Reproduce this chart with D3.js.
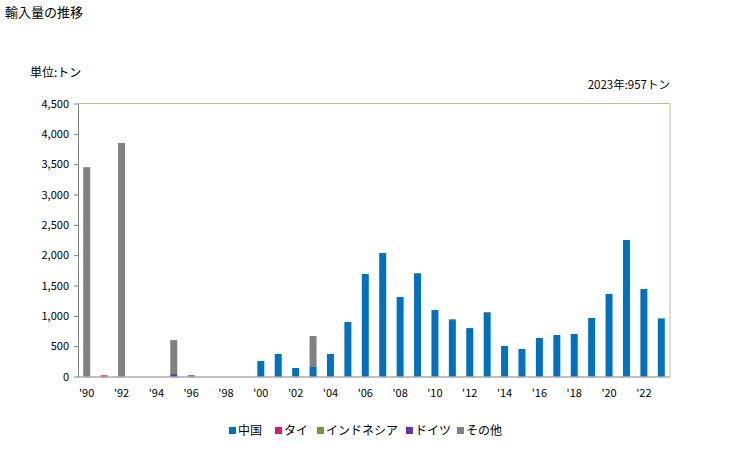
<!DOCTYPE html>
<html><head><meta charset="utf-8">
<script src="https://cdn.jsdelivr.net/npm/d3@7"></script>
<style>body{margin:0;background:#fff;font-family:"Noto Sans CJK JP","Noto Sans",sans-serif;}</style>
</head><body><svg id="c" width="729" height="450"></svg>
<script>
const years = d3.range(1990, 2024);
const seriesNames = ["中国","タイ","インドネシア","ドイツ","その他"];
const colors = ["#0070c0","#d41f64","#77933c","#7030a0","#808080"];
const china =     [0,0,0,0,0,0,0,0,0,0,255,371,140,157,371,898,1690,2035,1310,1690,1096,930,798,1047,503,453,635,684,700,964,1360,2250,1442,957];
const thai =      [0,20,0,0,0,0,0,0,0,0,0,0,0,0,0,0,0,0,0,0,0,0,0,0,0,0,0,0,0,0,0,0,0,0];
const indonesia = [0,0,0,0,0,0,0,0,0,0,0,0,0,0,0,0,0,0,0,0,0,16,0,0,0,0,0,0,0,0,0,0,0,0];
const germany =   [0,0,0,0,0,40,0,0,0,0,0,0,0,0,0,0,0,0,0,0,0,0,0,0,0,0,0,0,0,0,0,0,0,0];
const others =    [3450,0,3850,0,0,560,25,0,0,0,0,0,0,510,0,0,0,0,0,16,0,0,0,16,0,0,0,0,0,0,0,0,0,0];
const yTicks = [0,500,1000,1500,2000,2500,3000,3500,4000,4500];
const xTickYears = d3.range(1990, 2024, 2);

const svg = d3.select("#c");
const L = 78, R = 670, T = 103.5, B = 376.5;
const x = d3.scaleBand().domain(years).range([L, R]).paddingInner(0.6).paddingOuter(0.3);
const y = d3.scaleLinear().domain([0, 4500]).range([B, T]);

const rows = years.map((yr, i) => ({year: yr, s0: china[i], s1: thai[i], s2: indonesia[i], s3: germany[i], s4: others[i]}));
const stack = d3.stack().keys(["s0","s1","s2","s3","s4"])(rows);

// title texts
svg.append("text").attr("x", 5).attr("y", 17).attr("font-size", 13).text("輸入量の推移");
svg.append("text").attr("x", 30).attr("y", 77).attr("font-size", 12).text("単位:トン");
svg.append("text").attr("x", 670).attr("y", 89).attr("font-size", 11.5).attr("text-anchor", "end").text("2023年:957トン");

// frame top/right
svg.append("path").attr("d", `M${L},${T}H${R}V${B}`).attr("fill", "none").attr("stroke", "#c4bc96").attr("stroke-width", 1);

// bars
stack.forEach((s, k) => {
  svg.append("g").attr("fill", colors[k]).selectAll("rect").data(s.filter(d => d[1] > d[0])).join("rect")
    .attr("x", d => x(d.data.year)).attr("width", x.bandwidth())
    .attr("y", d => y(d[1])).attr("height", d => y(d[0]) - y(d[1]));
});

// y axis
const ya = svg.append("g").attr("transform", `translate(${L},0)`)
  .call(d3.axisLeft(y).tickValues(yTicks).tickSize(4).tickSizeOuter(0).tickFormat(d3.format(",")));
ya.select(".domain").attr("stroke", "#808080");
ya.selectAll(".tick line").attr("stroke", "#808080");
ya.selectAll("text").attr("font-size", 11).attr("fill", "#000").attr("font-family", "\"Noto Sans CJK JP\",sans-serif").attr("x", -9);

// x axis
const xa = svg.append("g").attr("transform", `translate(0,${B})`)
  .call(d3.axisBottom(x).tickValues(xTickYears).tickSize(0).tickFormat(d => "'" + String(d).slice(2)));
xa.select(".domain").attr("stroke", "#808080").attr("d", `M${L},0.5H${R}`);
xa.selectAll("text").attr("font-size", 11).attr("fill", "#000").attr("dy", "0").attr("y", 20).attr("font-family", "\"Noto Sans CJK JP\",sans-serif");

// legend
const legX = [229, 275, 317, 406, 457];
const lg = svg.append("g");
seriesNames.forEach((n, k) => {
  lg.append("rect").attr("x", legX[k]).attr("y", 427).attr("width", 7).attr("height", 7).attr("fill", colors[k]);
  lg.append("text").attr("x", legX[k] + 9).attr("y", 435).attr("font-size", 12).text(n);
});
</script></body></html>
